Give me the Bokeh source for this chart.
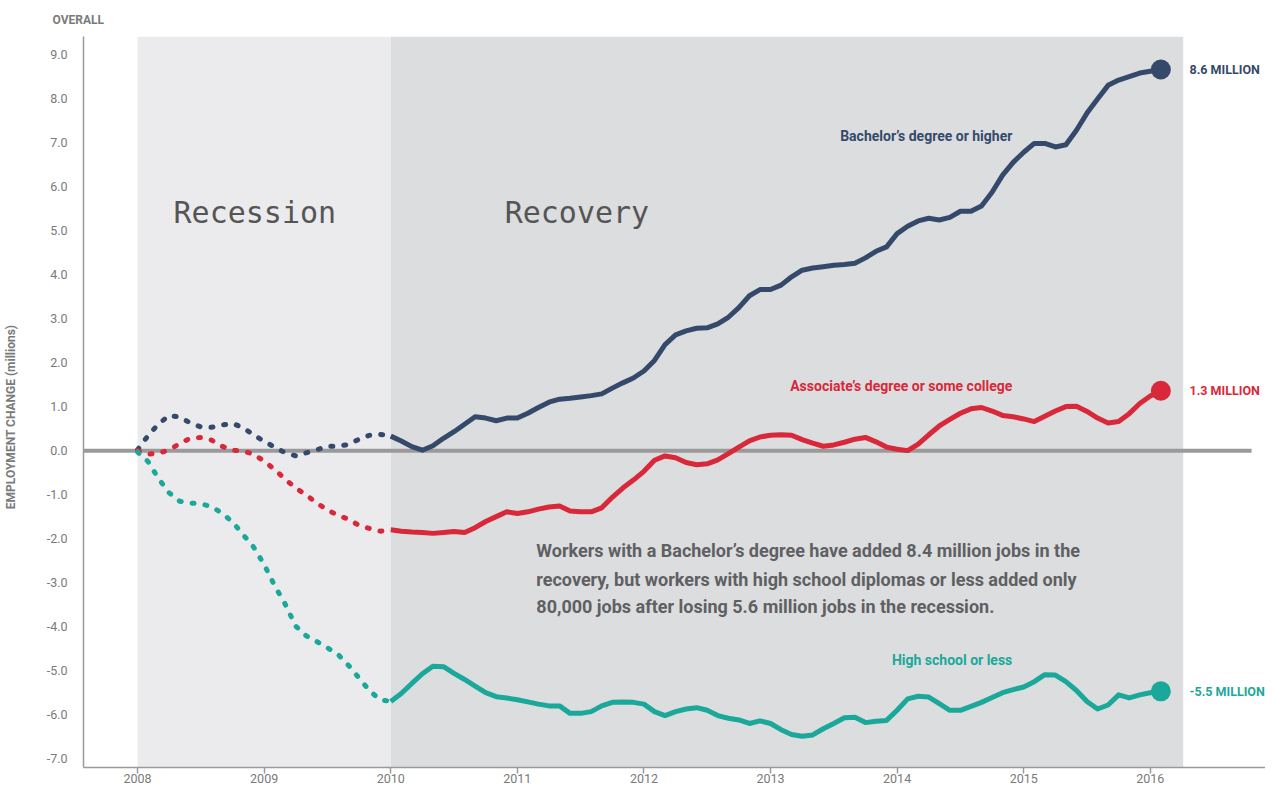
from bokeh.plotting import figure
from bokeh.models import ColumnDataSource, BoxAnnotation, FixedTicker
from bokeh.core.properties import value
from bokeh.embed import file_html
from bokeh.resources import INLINE

# ---------------- data ----------------
# monthly, Jan 2008 (index 0) .. Feb 2016 (index 97); employment change in millions
months = list(range(98))
bachelor = [0.02, 0.34, 0.61, 0.80, 0.76, 0.63, 0.54, 0.53, 0.58, 0.62,
            0.52, 0.36, 0.21, 0.08, -0.05, -0.12, -0.05, 0.02, 0.10, 0.10,
            0.14, 0.26, 0.35, 0.37, 0.33, 0.22, 0.09, 0.01, 0.11, 0.28,
            0.43, 0.60, 0.77, 0.74, 0.68, 0.74, 0.74, 0.85, 0.98, 1.10,
            1.17, 1.19, 1.22, 1.25, 1.29, 1.42, 1.54, 1.65, 1.81, 2.05,
            2.41, 2.63, 2.72, 2.78, 2.79, 2.88, 3.03, 3.25, 3.52, 3.66,
            3.66, 3.76, 3.95, 4.10, 4.15, 4.18, 4.21, 4.23, 4.26, 4.38,
            4.53, 4.63, 4.93, 5.10, 5.22, 5.28, 5.24, 5.30, 5.44, 5.44,
            5.56, 5.87, 6.26, 6.55, 6.78, 6.98, 6.98, 6.90, 6.95, 7.28,
            7.67, 7.99, 8.30, 8.42, 8.50, 8.58, 8.62, 8.66]
associate = [0.00, -0.08, -0.06, 0.02, 0.16, 0.28, 0.30, 0.24, 0.10, 0.01,
             -0.01, -0.08, -0.24, -0.43, -0.65, -0.85, -1.01, -1.19, -1.35, -1.47,
             -1.56, -1.70, -1.77, -1.83, -1.80, -1.83, -1.85, -1.86, -1.88, -1.86,
             -1.84, -1.86, -1.75, -1.61, -1.50, -1.39, -1.43, -1.39, -1.33, -1.28,
             -1.26, -1.37, -1.39, -1.39, -1.30, -1.06, -0.85, -0.67, -0.47, -0.22,
             -0.12, -0.16, -0.27, -0.32, -0.30, -0.21, -0.07, 0.08, 0.22, 0.31,
             0.35, 0.36, 0.35, 0.25, 0.17, 0.10, 0.13, 0.19, 0.26, 0.30,
             0.20, 0.08, 0.03, 0.00, 0.15, 0.36, 0.56, 0.71, 0.85, 0.95,
             0.98, 0.90, 0.80, 0.77, 0.72, 0.66, 0.78, 0.90, 1.00, 1.01,
             0.89, 0.74, 0.63, 0.66, 0.84, 1.07, 1.24, 1.36]
highschool = [-0.03, -0.25, -0.64, -0.96, -1.15, -1.19, -1.21, -1.27, -1.42, -1.62,
              -1.91, -2.19, -2.59, -3.07, -3.49, -3.99, -4.21, -4.34, -4.48, -4.63,
              -4.88, -5.17, -5.46, -5.66, -5.70, -5.52, -5.29, -5.07, -4.90, -4.91,
              -5.06, -5.20, -5.35, -5.50, -5.59, -5.62, -5.66, -5.71, -5.76, -5.80,
              -5.80, -5.97, -5.97, -5.93, -5.80, -5.72, -5.71, -5.72, -5.76, -5.93,
              -6.02, -5.93, -5.87, -5.84, -5.90, -6.02, -6.08, -6.12, -6.20, -6.14,
              -6.20, -6.34, -6.45, -6.49, -6.46, -6.32, -6.20, -6.07, -6.06, -6.18,
              -6.15, -6.13, -5.90, -5.64, -5.58, -5.60, -5.75, -5.90, -5.90, -5.81,
              -5.72, -5.61, -5.50, -5.43, -5.37, -5.25, -5.09, -5.10, -5.25, -5.45,
              -5.70, -5.87, -5.78, -5.55, -5.62, -5.55, -5.50, -5.47]

series_names = ["Bachelor\u2019s degree or higher",
                "Associate\u2019s degree or some college",
                "High school or less"]
end_labels = ["8.6 MILLION", "1.3 MILLION", "-5.5 MILLION"]
series_colors = ["#354a6b", "#d8283a", "#1aa89a"]

periods = ["Recession", "Recovery"]
period_start = [2008.0, 2010.0]
period_end = [2010.0, 2016.26]
period_fill = ["#ebebee", "#dcdddf"]

x_ticks = [2008, 2009, 2010, 2011, 2012, 2013, 2014, 2015, 2016]
x_tick_labels = ["2008", "2009", "2010", "2011", "2012", "2013", "2014", "2015", "2016"]
y_ticks = [-7, -6, -5, -4, -3, -2, -1, 0, 1, 2, 3, 4, 5, 6, 7, 8, 9]
y_tick_labels = ["-7.0", "-6.0", "-5.0", "-4.0", "-3.0", "-2.0", "-1.0", "0.0",
                 "1.0", "2.0", "3.0", "4.0", "5.0", "6.0", "7.0", "8.0", "9.0"]
y_axis_title = "EMPLOYMENT CHANGE (millions)"

note_lines = ["Workers with a Bachelor\u2019s degree have added 8.4 million jobs in the",
              "recovery, but workers with high school diplomas or less added only",
              "80,000 jobs after losing 5.6 million jobs in the recession."]

split_index = 24  # Jan 2010: end of recession

# ---------------- figure ----------------
FONT = "Roboto"
years = [2008 + m / 12 for m in months]

p = figure(frame_width=1182, frame_height=731, output_backend="svg", toolbar_location=None,
           x_range=(2007.573, 2016.91), y_range=(-7.2, 9.41),
           min_border_left=74, min_border_right=0, min_border_top=29, min_border_bottom=0,
           title="OVERALL")
p.background_fill_color = "white"
p.border_fill_color = "white"
p.outline_line_color = None
p.grid.visible = False

p.title.text_font = FONT
p.title.text_font_size = "12px"
p.title.text_font_style = "bold"
p.title.text_color = "#7a7a7a"
p.title.align = "left"
p.title.offset = -31
p.title.standoff = 20

for s, e, c in zip(period_start, period_end, period_fill):
    p.add_layout(BoxAnnotation(left=s, right=e, fill_color=c, fill_alpha=1.0,
                               line_color=None, level="underlay"))

# zero line
p.segment(x0=[2007.573], y0=[0], x1=[2016.8], y1=[0], line_color="#9a9a9a", line_width=4)

# period labels
p.text(x=[2008.284, 2010.9], y=[5.42, 5.42], text=periods,
       text_font=value("DejaVu Sans Mono"), text_font_size="30px",
       text_color="#555555", text_baseline="middle", text_align="left")

for vals, name, lab, col, ly in zip([bachelor, associate, highschool], series_names,
                                    end_labels, series_colors, [7.15, 1.46, -4.76]):
    rec = ColumnDataSource(dict(x=years[:split_index + 1], y=vals[:split_index + 1]))
    recov = ColumnDataSource(dict(x=years[split_index:], y=vals[split_index:]))
    p.line("x", "y", source=rec, line_color=col, line_width=5,
           line_dash="2 11", line_cap="round")
    p.line("x", "y", source=recov, line_color=col, line_width=5, line_join="round")
    p.scatter(x=[years[-1]], y=[vals[-1]], size=20, fill_color=col, line_color=None)
    p.text(x=[2016.31], y=[vals[-1]], text=[lab], text_font=value(FONT),
           text_font_size="12.5px", text_font_style="bold", text_color=col,
           text_baseline="middle", text_align="left")
    p.text(x=[2014.91], y=[ly], text=[name], text_font=value(FONT),
           text_font_size="14px", text_font_style="bold", text_color=col,
           text_baseline="middle", text_align="right")

p.text(x=[2011.15] * 3, y=[-2.26, -2.92, -3.55], text=note_lines,
       text_font=value(FONT), text_font_size="18px", text_font_style="bold",
       text_color="#5f6062", text_baseline="middle", text_align="left")

# axes
p.xaxis.ticker = FixedTicker(ticks=x_ticks)
p.xaxis.major_label_overrides = {t: l for t, l in zip(x_ticks, x_tick_labels)}
p.yaxis.ticker = FixedTicker(ticks=y_ticks)
p.yaxis.major_label_overrides = {t: l for t, l in zip(y_ticks, y_tick_labels)}
for ax in (p.xaxis, p.yaxis):
    ax.axis_line_color = "#9a9a9a"
    ax.axis_line_width = 1.5
    ax.minor_tick_line_color = None
    ax.major_label_text_font = FONT
    ax.major_label_text_font_size = "12.5px"
    ax.major_label_text_color = "#7a7a7a"
p.xaxis.major_tick_line_color = "#9a9a9a"
p.xaxis.major_tick_line_width = 1.5
p.xaxis.major_tick_in = 0
p.xaxis.major_tick_out = 6
p.xaxis.major_label_standoff = 0
p.yaxis.major_tick_line_color = None
p.yaxis.major_label_standoff = 10
# trailing no-break spaces shift the rotated title slightly below the frame centre
p.yaxis.axis_label = y_axis_title + "\u00a0" * 10
p.yaxis.axis_label_text_font = FONT
p.yaxis.axis_label_text_font_size = "12px"
p.yaxis.axis_label_text_font_style = "bold"
p.yaxis.axis_label_text_color = "#7a7a7a"
p.yaxis.axis_label_standoff = 26

open("out.html", "w").write(file_html(p, INLINE))
